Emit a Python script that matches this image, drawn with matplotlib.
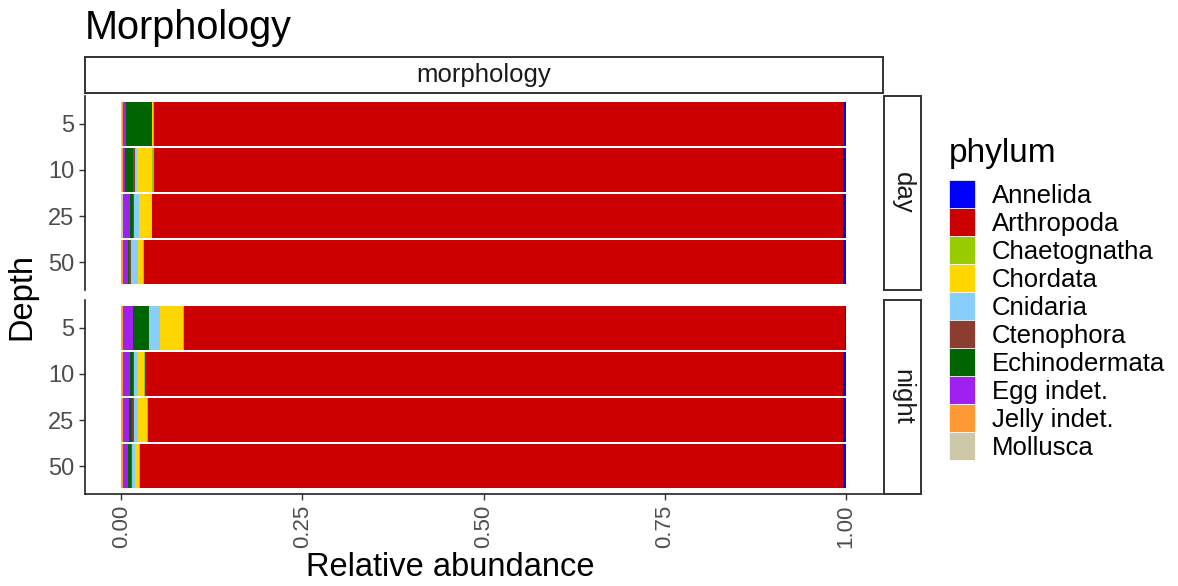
import matplotlib.pyplot as plt
from matplotlib.patches import Patch
import numpy as np

plt.rcParams['font.family'] = ['Liberation Sans', 'DejaVu Sans']

# legend order (ggplot factor order)
phyla = ["Annelida", "Arthropoda", "Chaetognatha", "Chordata", "Cnidaria",
         "Ctenophora", "Echinodermata", "Egg indet.", "Jelly indet.", "Mollusca"]
colors = ["#0000FF", "#CC0000", "#99CC00", "#FFD700", "#87CEFA",
          "#8B3E2F", "#006400", "#A020F0", "#FF9933", "#CDC8A8"]

depths = ["5", "10", "25", "50"]
times = ["day", "night"]

# relative abundance per phylum, rows: depth 5,10,25,50
values = {
    "day": {
        "Annelida":      [0.003, 0.004, 0.004, 0.004],
        "Arthropoda":    [0.952, 0.951, 0.953, 0.965],
        "Chaetognatha":  [0.001, 0.003, 0.001, 0.001],
        "Chordata":      [0.002, 0.020, 0.018, 0.007],
        "Cnidaria":      [0.000, 0.003, 0.006, 0.010],
        "Ctenophora":    [0.000, 0.003, 0.002, 0.002],
        "Echinodermata": [0.036, 0.011, 0.004, 0.002],
        "Egg indet.":    [0.004, 0.003, 0.009, 0.007],
        "Jelly indet.":  [0.001, 0.001, 0.001, 0.002],
        "Mollusca":      [0.001, 0.001, 0.002, 0.000],
    },
    "night": {
        "Annelida":      [0.001, 0.004, 0.004, 0.004],
        "Arthropoda":    [0.912, 0.963, 0.959, 0.970],
        "Chaetognatha":  [0.002, 0.002, 0.001, 0.002],
        "Chordata":      [0.032, 0.008, 0.013, 0.005],
        "Cnidaria":      [0.014, 0.005, 0.006, 0.004],
        "Ctenophora":    [0.001, 0.002, 0.002, 0.002],
        "Echinodermata": [0.022, 0.004, 0.004, 0.003],
        "Egg indet.":    [0.014, 0.010, 0.009, 0.008],
        "Jelly indet.":  [0.002, 0.002, 0.002, 0.002],
        "Mollusca":      [0.000, 0.000, 0.000, 0.000],
    },
}

W, H = 1178, 586
fig = plt.figure(figsize=(W/100, H/100), dpi=100)

def box(x0, y0, x1, y1):
    return [x0/W, 1 - y1/H, (x1 - x0)/W, (y1 - y0)/H]

grey = "#4D4D4D"
panels = {"day": (96, 290), "night": (300, 494)}
y = np.arange(len(depths))

for t in times:
    y0, y1 = panels[t]
    ax = fig.add_axes(box(85, y0, 882, y1))
    left = np.zeros(len(depths))
    for name, col in zip(phyla[::-1], colors[::-1]):
        v = np.array(values[t][name])
        ax.barh(y, v, left=left, height=0.96, color=col, linewidth=0)
        left += v
    ax.set_xlim(-0.05, 1.05)
    ax.set_ylim(len(depths) - 0.4, -0.6)
    ax.set_yticks(y, depths)
    ax.set_xticks([0, 0.25, 0.5, 0.75, 1.0])
    ax.tick_params(axis='y', labelsize=17, labelcolor=grey, color="#333333",
                   length=4, width=1)
    for s in ["top", "right"]:
        ax.spines[s].set_visible(False)
    ax.spines["left"].set_linewidth(1.2)
    ax.spines["left"].set_color("#222222")
    if t == "day":
        ax.spines["bottom"].set_visible(False)
        ax.tick_params(axis='x', bottom=False, labelbottom=False)
    else:
        ax.spines["bottom"].set_linewidth(1.2)
        ax.spines["bottom"].set_color("#222222")
        ax.set_xticklabels(["0.00", "0.25", "0.50", "0.75", "1.00"])
        ax.tick_params(axis='x', labelsize=16, labelcolor=grey, color="#333333",
                       length=4, width=1, labelrotation=90)

    # right strip
    sax = fig.add_axes(box(884, y0, 921, y1))
    sax.set_xticks([]); sax.set_yticks([])
    for s in sax.spines.values():
        s.set_linewidth(1.4)
        s.set_color("#333333")
    sax.text(0.5, 0.5, t, rotation=-90, ha="center", va="center",
             fontsize=18.5, color="#1A1A1A", transform=sax.transAxes)

# top strip
tax = fig.add_axes(box(85, 57, 883, 93))
tax.set_xticks([]); tax.set_yticks([])
for s in tax.spines.values():
    s.set_linewidth(1.4)
    s.set_color("#333333")
tax.text(0.5, 0.5, "morphology", ha="center", va="center", fontsize=18.5,
         color="#1A1A1A", transform=tax.transAxes)

fig.text(85/W, 1 - 28/H, "Morphology", fontsize=28.5, va="center", ha="left")
fig.text(22/W, 1 - 297/H, "Depth", fontsize=23.5, rotation=90, va="center", ha="center")
fig.text(450/W, 1 - 568/H, "Relative abundance", fontsize=23.5, va="center", ha="center")

handles = [Patch(facecolor=c, edgecolor="white", linewidth=0.5) for c in colors]
leg = fig.legend(handles, phyla, loc="upper left", bbox_to_anchor=(931/W, 1 - 120/H),
                 frameon=False, fontsize=18.5, title="phylum", title_fontsize=24,
                 handlelength=1.03, handleheight=1.3, labelspacing=0.0,
                 handletextpad=0.65, borderpad=0.2)
leg._legend_box.align = "left"
leg._legend_box.sep = 8

fig.savefig("out.png", dpi=100)
